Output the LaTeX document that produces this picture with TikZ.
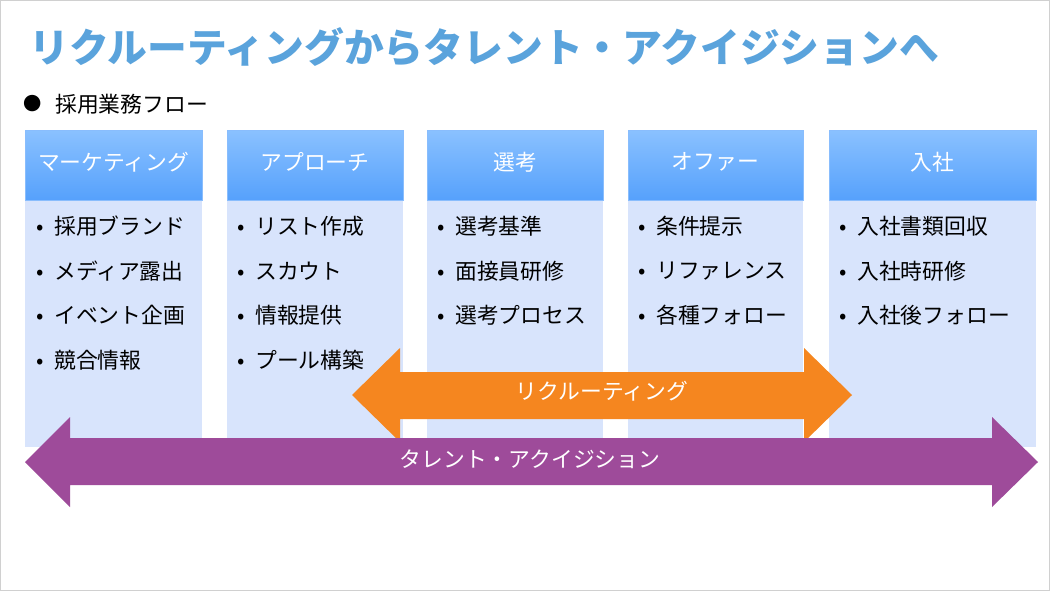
\documentclass[tikz,border=0pt]{standalone}
\usepackage{fontspec}
\setmainfont{Noto Sans CJK JP}
\usepackage{xcolor}
\usepackage{tikz}
\usetikzlibrary{positioning, calc}
\definecolor{titleblue}{RGB}{90,163,220}
\definecolor{hdtop}{RGB}{138,193,255}
\definecolor{hdbot}{RGB}{86,161,252}
\definecolor{bodyblue}{RGB}{216,228,252}
\definecolor{recorange}{RGB}{245,134,31}
\definecolor{tapurple}{RGB}{158,75,154}
\definecolor{frame}{RGB}{208,208,208}
\newcommand{\bul}{\makebox[0.5cm][l]{\hspace{0.05cm}•}}

\begin{document}
\begin{tikzpicture}[x=0.025cm, y=-0.025cm,
    head/.style={top color=hdtop, bottom color=hdbot, draw=hdbot!70!white, line width=0.3pt},
    item/.style={anchor=west, inner sep=0pt, font=\fontsize{15.5}{18}\selectfont},
    label/.style={text=white, font=\fontsize{15.5}{18}\selectfont, inner sep=0pt}]

% page with thin grey frame
\draw[frame, line width=0.6pt, fill=white] (0.5,0.5) rectangle (1049.5,590.5);
\useasboundingbox (0,0) rectangle (1050,591);

% title and sub heading
\node (title) [anchor=west, inner sep=0pt, text=titleblue,
               font=\fontsize{28.3}{32}\bfseries\selectfont] at (29,47)
      {リクルーティングからタレント・アクイジションへ};
\node (dot) [inner sep=0pt, font=\fontsize{13}{16}\selectfont] at (33,104) {●};
\node (flow) [item] at (55,104) {採用業務フロー};

% column panels (body)
\fill[bodyblue] (25,200) rectangle (202,447);
\fill[bodyblue] (227,200) rectangle (403,447);
\fill[bodyblue] (427,200) rectangle (603,447);
\fill[bodyblue] (628,200) rectangle (803,447);
\fill[bodyblue] (829,200) rectangle (1036,447);

% column headers -- gradient boxes
\shade[head] (25,130) rectangle (202,200);
\shade[head] (227,130) rectangle (403,200);
\shade[head] (427,130) rectangle (603,200);
\shade[head] (628,130) rectangle (803,200);
\shade[head] (829,130) rectangle (1036,200);

\node (mkt)   [label] at (113.5,162) {マーケティング};
\node (appr)  [label] at (315,162)   {アプローチ};
\node (sel)   [label] at (515,162)   {選考};
\node (offer) [label] at (715.5,162) {オファー};
\node (join)  [label] at (932.5,162) {入社};

% bullet items
\node (m1) [item] at (34,226) {\bul 採用ブランド};
\node (m2) [item] at (34,271) {\bul メディア露出};
\node (m3) [item] at (34,315) {\bul イベント企画};
\node (m4) [item] at (34,360) {\bul 競合情報};

\node (a1) [item] at (235,226) {\bul リスト作成};
\node (a2) [item] at (235,271) {\bul スカウト};
\node (a3) [item] at (235,315) {\bul 情報提供};
\node (a4) [item] at (235,360) {\bul プール構築};

\node (s1) [item] at (435,226) {\bul 選考基準};
\node (s2) [item] at (435,271) {\bul 面接員研修};
\node (s3) [item] at (435,315) {\bul 選考プロセス};

\node (o1) [item] at (636,226) {\bul 条件提示};
\node (o2) [item] at (636,271) {\bul リファレンス};
\node (o3) [item] at (636,315) {\bul 各種フォロー};

\node (j1) [item] at (837,226) {\bul 入社書類回収};
\node (j2) [item] at (837,271) {\bul 入社時研修};
\node (j3) [item] at (837,315) {\bul 入社後フォロー};

% recruiting arrow (orange, double headed)
\fill[recorange] (352,395) -- (400,348) -- (400,372) -- (804,372) -- (804,348)
                 -- (852,395) -- (804,442) -- (804,419) -- (400,419) -- (400,442) -- cycle;
\node (recruit) [label] at (602,391) {リクルーティング};

% talent acquisition arrow (purple, double headed)
\fill[tapurple] (25,462) -- (70,417) -- (70,438) -- (992,438) -- (992,417)
                -- (1038,462) -- (992,507) -- (992,485) -- (70,485) -- (70,507) -- cycle;
\node (talent) [label] at (530,459) {タレント・アクイジション};

\end{tikzpicture}
\end{document}
